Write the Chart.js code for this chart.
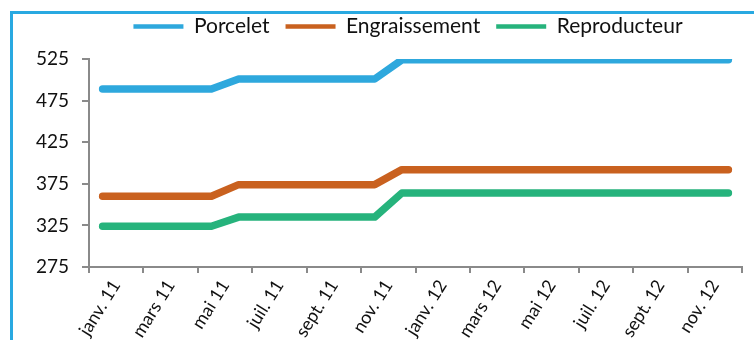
<!DOCTYPE html>
<html lang="fr">
<head>
<meta charset="UTF-8">
<title>Prix mensuels</title>
<script src="https://cdn.jsdelivr.net/npm/chart.js"></script>
<style>
    body { margin: 0; background: #fff; }
    .cadre { position: relative; width: 754px; height: 340px; overflow: hidden; }
    .bord { position: absolute; left: 10px; top: 11px; width: 800px; height: 400px;
            border-top: 3px solid #29a9e1; border-left: 3px solid #29a9e1; }
    canvas { position: absolute; left: 0; top: 0; }
</style>
</head>
<body>
<div class="cadre">
    <div class="bord"></div>
    <canvas id="graphique" width="754" height="340"></canvas>
</div>

<script>
    // mois de janv. 2011 à déc. 2012
    const mois = [
        'janv. 11', 'févr. 11', 'mars 11', 'avr. 11', 'mai 11', 'juin 11',
        'juil. 11', 'août 11', 'sept. 11', 'oct. 11', 'nov. 11', 'déc. 11',
        'janv. 12', 'févr. 12', 'mars 12', 'avr. 12', 'mai 12', 'juin 12',
        'juil. 12', 'août 12', 'sept. 12', 'oct. 12', 'nov. 12', 'déc. 12'
    ];
    // étiquettes affichées (un mois sur deux)
    const etiquettes = ['janv. 11', 'mars 11', 'mai 11', 'juil. 11', 'sept. 11', 'nov. 11',
                        'janv. 12', 'mars 12', 'mai 12', 'juil. 12', 'sept. 12', 'nov. 12'];

    const porcelet = [489, 489, 489, 489, 489, 501, 501, 501, 501, 501, 501, 524,
                      524, 524, 524, 524, 524, 524, 524, 524, 524, 524, 524, 524];
    const engraissement = [360, 360, 360, 360, 360, 374, 374, 374, 374, 374, 374, 392,
                           392, 392, 392, 392, 392, 392, 392, 392, 392, 392, 392, 392];
    const reproducteur = [324, 324, 324, 324, 324, 335, 335, 335, 335, 335, 335, 364,
                          364, 364, 364, 364, 364, 364, 364, 364, 364, 364, 364, 364];

    const graduations = [275, 325, 375, 425, 475, 525];

    const police = "Lato, 'DejaVu Sans', sans-serif";
    const gris = '#8a8a8a';

    function serie(nom, valeurs, couleur) {
        return {
            label: nom,
            data: valeurs,
            borderColor: couleur,
            backgroundColor: couleur,
            borderWidth: 7.5,
            borderCapStyle: 'round',
            borderJoinStyle: 'round',
            pointRadius: 0,
            tension: 0
        };
    }

    // légende : un peu d'espace dessous, et centrée sur la zone du graphique
    const placeLegende = {
        id: 'placeLegende',
        beforeInit(chart) {
            const fit = chart.legend.fit;
            chart.legend.fit = function () {
                fit.call(this);
                this.height += 12;
            };
        },
        afterLayout(chart) {
            chart.legend.left += 37;
            chart.legend.right += 37;
        }
    };

    new Chart(document.getElementById('graphique'), {
        type: 'line',
        data: {
            labels: mois,
            datasets: [
                serie('Porcelet', porcelet, '#2ea8dd'),
                serie('Engraissement', engraissement, '#c9611f'),
                serie('Reproducteur', reproducteur, '#26b37c')
            ]
        },
        options: {
            responsive: false,
            animation: false,
            layout: { padding: { top: 0, right: 12, left: 0, bottom: 0 } },
            plugins: {
                tooltip: { enabled: false },
                legend: {
                    position: 'top',
                    labels: {
                        usePointStyle: true,
                        pointStyle: 'line',
                        pointStyleWidth: 50,
                        boxHeight: 5,
                        padding: 16,
                        color: '#111',
                        font: { family: police, size: 21 },
                        generateLabels(chart) {
                            const items = Chart.defaults.plugins.legend.labels.generateLabels(chart);
                            items.forEach(it => { it.lineWidth = 4.5; });
                            return items;
                        }
                    }
                }
            },
            scales: {
                x: {
                    display: false,
                    offset: true
                },
                mois: {
                    type: 'category',
                    position: 'bottom',
                    labels: etiquettes,
                    offset: true,
                    border: { color: gris, width: 2 },
                    grid: {
                        offset: true,
                        drawOnChartArea: false,
                        color: gris,
                        lineWidth: 2,
                        tickLength: 6
                    },
                    ticks: {
                        autoSkip: false,
                        minRotation: 58,
                        maxRotation: 58,
                        padding: 3,
                        color: '#111',
                        font: { family: police, size: 18 }
                    },
                    afterFit(scale) { scale.height = 73; }
                },
                y: {
                    min: 275,
                    max: 525,
                    border: { color: gris, width: 2 },
                    grid: {
                        drawOnChartArea: false,
                        color: gris,
                        lineWidth: 2,
                        tickLength: 7
                    },
                    afterBuildTicks(scale) {
                        scale.ticks = graduations.map(v => ({ value: v }));
                    },
                    ticks: {
                        padding: 13,
                        color: '#111',
                        font: { family: police, size: 19 }
                    },
                    afterFit(scale) { scale.width = 89; }
                }
            }
        },
        plugins: [placeLegende]
    });
</script>
</body>
</html>
